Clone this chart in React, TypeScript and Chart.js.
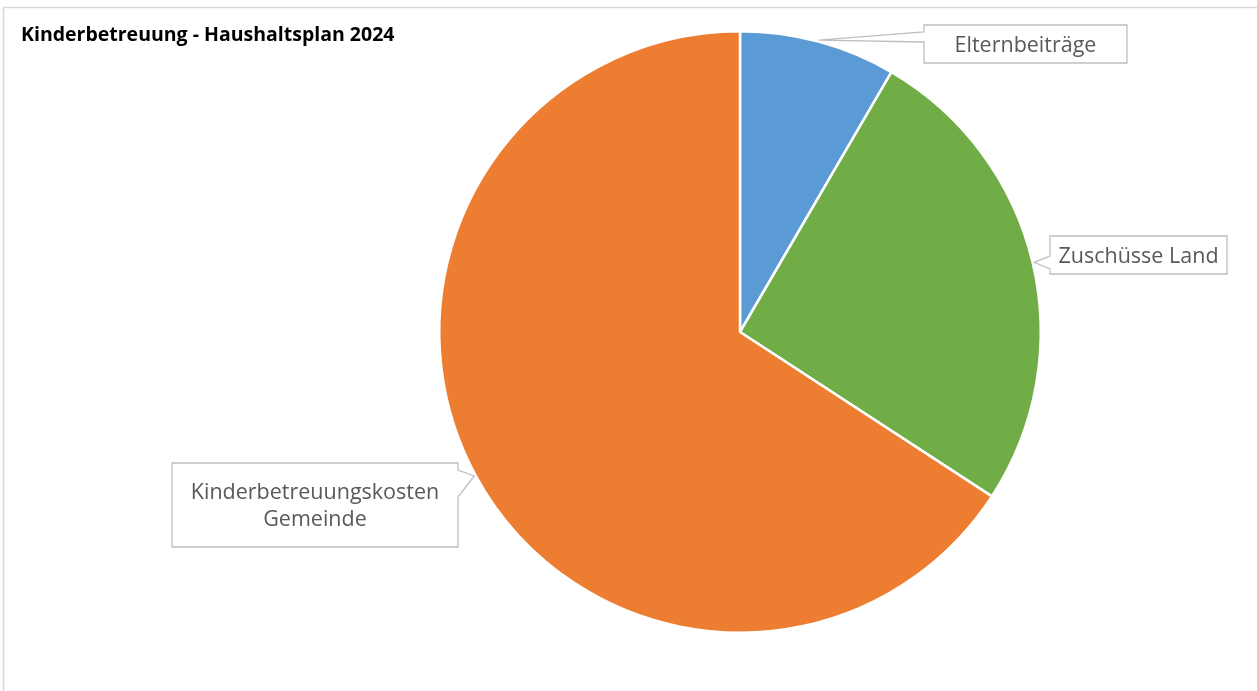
import React, { useEffect, useRef } from "react";
import { Chart, registerables } from "chart.js";

Chart.register(...registerables);

const title = "Kinderbetreuung - Haushaltsplan 2024";
const categories = ["Elternbeiträge", "Zuschüsse Land", "Kinderbetreuungskosten Gemeinde"];
const shares = [8.4, 25.8, 65.8];
const labelLines = [["Elternbeiträge"], ["Zuschüsse Land"], ["Kinderbetreuungskosten", "Gemeinde"]];
const colors = ["#5B9BD5", "#70AD47", "#ED7D31"];

// callout boxes, relative to pie centre: [left, top, width, height, notchStart, notchEnd, side]
const boxes: [number, number, number, number, number, number, "left" | "right"][] = [
  [184, -307, 203, 38, 7, 17, "left"],
  [310, -96, 177, 38, 20, 33, "left"],
  [-568, 131, 286, 84, 7, 34, "right"],
];

const calloutPlugin = {
  id: "callouts",
  afterDraw(chart: any) {
    const ctx = chart.ctx as CanvasRenderingContext2D;
    const W = chart.width;
    const H = chart.height;
    ctx.save();
    // frame
    ctx.strokeStyle = "#d9d9d9";
    ctx.lineWidth = 1.5;
    ctx.beginPath();
    ctx.moveTo(3.5, H);
    ctx.lineTo(3.5, 7.5);
    ctx.lineTo(W, 7.5);
    ctx.stroke();
    // title
    ctx.fillStyle = "#000000";
    ctx.font = "bold 19.5px 'Open Sans'";
    ctx.textBaseline = "alphabetic";
    ctx.textAlign = "left";
    ctx.fillText(title, 21, 41);

    const meta = chart.getDatasetMeta(0);
    meta.data.forEach((arc: any, i: number) => {
      const { x, y, startAngle, endAngle, outerRadius } = arc.getProps(
        ["x", "y", "startAngle", "endAngle", "outerRadius"],
        true
      );
      const mid = (startAngle + endAngle) / 2;
      const tx = x + Math.cos(mid) * (outerRadius + 1.5);
      const ty = y + Math.sin(mid) * (outerRadius + 1.5);
      const [l, t, w, h, n1, n2, side] = boxes[i];
      const bx = x + l;
      const by = y + t;
      ctx.beginPath();
      if (side === "left") {
        ctx.moveTo(bx, by);
        ctx.lineTo(bx + w, by);
        ctx.lineTo(bx + w, by + h);
        ctx.lineTo(bx, by + h);
        ctx.lineTo(bx, by + n2);
        ctx.lineTo(tx, ty);
        ctx.lineTo(bx, by + n1);
        ctx.closePath();
      } else {
        ctx.moveTo(bx, by);
        ctx.lineTo(bx + w, by);
        ctx.lineTo(bx + w, by + n1);
        ctx.lineTo(tx, ty);
        ctx.lineTo(bx + w, by + n2);
        ctx.lineTo(bx + w, by + h);
        ctx.lineTo(bx, by + h);
        ctx.closePath();
      }
      ctx.fillStyle = "#ffffff";
      ctx.fill();
      ctx.strokeStyle = "#bfbfbf";
      ctx.lineWidth = 1.3;
      ctx.stroke();

      const lines = labelLines[i];
      ctx.fillStyle = "#595959";
      ctx.font = "21.5px 'Open Sans'";
      ctx.textAlign = "center";
      ctx.textBaseline = "alphabetic";
      const lh = 27;
      const cx = bx + w / 2;
      const cy = by + h / 2;
      lines.forEach((s, k) => {
        const off = (k - (lines.length - 1) / 2) * lh;
        ctx.fillText(s, cx, cy + off + 7.5);
      });
    });
    ctx.restore();
  },
};

export default function App() {
  const ref = useRef<HTMLCanvasElement | null>(null);
  useEffect(() => {
    document.body.style.margin = "0";
    const canvas = ref.current;
    if (!canvas) return;
    const chart = new Chart(canvas, {
      type: "pie",
      data: {
        labels: categories,
        datasets: [
          {
            data: shares,
            backgroundColor: colors,
            borderColor: "#ffffff",
            borderWidth: 2.5,
            hoverOffset: 0,
          },
        ],
      },
      options: {
        responsive: false,
        animation: false,
        layout: { padding: { left: 438, right: 215, top: 30, bottom: 57 } },
        plugins: {
          legend: { display: false },
          tooltip: { enabled: false },
          title: { display: false },
        },
      },
      plugins: [calloutPlugin],
    });
    return () => chart.destroy();
  }, []);
  return (
    <div style={{ width: 1257, height: 691, overflow: "hidden", background: "#ffffff" }}>
      <canvas ref={ref} width={1257} height={691} style={{ display: "block" }} />
    </div>
  );
}
